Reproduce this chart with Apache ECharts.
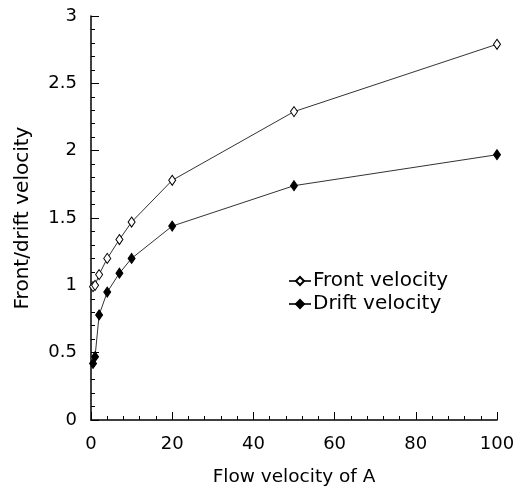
<!DOCTYPE html>
<html><head><meta charset="utf-8">
<script src="https://cdn.jsdelivr.net/npm/echarts@6/dist/echarts.min.js"></script>
<style>html,body{margin:0;padding:0;background:#fff}#c{width:520px;height:488px}</style>
</head><body><div id="c"></div>
<script>
const flowVelocity = [0.5, 1, 2, 4, 7, 10, 20, 50, 100];
const frontVelocity = [0.99, 1.0, 1.08, 1.2, 1.34, 1.47, 1.78, 2.29, 2.79];
const driftVelocity = [0.42, 0.47, 0.78, 0.95, 1.09, 1.2, 1.44, 1.74, 1.97];
const xTicks = [0, 20, 40, 60, 80, 100];
const yTicks = [0, 0.5, 1, 1.5, 2, 2.5, 3];

const font = 'DejaVu Sans, sans-serif';
const chart = echarts.init(document.getElementById('c'), null, {renderer: 'canvas'});
function pairs(ys){ return flowVelocity.map((x,i)=>[x, ys[i]]); }
chart.setOption({
  animation: false,
  backgroundColor: '#fff',
  grid: {left: 91, right: 23, top: 16, bottom: 68, containLabel: false, outerBoundsMode: 'none'},
  legend: {
    orient: 'vertical', left: 283, top: 266, itemGap: 3,
    itemWidth: 22, itemHeight: 10,
    textStyle: {fontFamily: font, fontSize: 20, color: '#000', padding: [0,0,0,-3]},
    data: ['Front velocity', 'Drift velocity']
  },
  xAxis: {
    type: 'value', min: xTicks[0], max: xTicks[xTicks.length-1], interval: 20,
    name: 'Flow velocity of A', nameLocation: 'middle', nameGap: 48,
    nameTextStyle: {fontFamily: font, fontSize: 18.5, color: '#000'},
    axisLine: {show: true, lineStyle: {color: '#000', width: 1.5}},
    axisTick: {show: true, inside: true, length: 8, lineStyle: {color: '#000', width: 1}},
    minorTick: {show: true, splitNumber: 5, length: 4, lineStyle: {color: '#000', width: 1}},
    axisLabel: {fontFamily: font, fontSize: 18, color: '#000', margin: 15},
    splitLine: {show: false}
  },
  yAxis: {
    type: 'value', min: yTicks[0], max: yTicks[yTicks.length-1], interval: 0.5,
    name: 'Front/drift velocity', nameLocation: 'middle', nameGap: 58,
    nameTextStyle: {fontFamily: font, fontSize: 20, color: '#000'},
    axisLine: {show: true, lineStyle: {color: '#000', width: 1.5}},
    axisTick: {show: true, inside: true, length: 8, lineStyle: {color: '#000', width: 1}},
    minorTick: {show: true, splitNumber: 5, length: 4, lineStyle: {color: '#000', width: 1}},
    axisLabel: {fontFamily: font, fontSize: 18, color: '#000', margin: 14},
    splitLine: {show: false}
  },
  series: [
    {
      name: 'Front velocity', type: 'line', data: pairs(frontVelocity),
      symbol: 'diamond', symbolSize: [7, 10], showAllSymbol: true,
      lineStyle: {color: '#333', width: 1},
      itemStyle: {color: '#fff', borderColor: '#000', borderWidth: 1}
    },
    {
      name: 'Drift velocity', type: 'line', data: pairs(driftVelocity),
      symbol: 'diamond', symbolSize: [7, 10], showAllSymbol: true,
      lineStyle: {color: '#333', width: 1},
      itemStyle: {color: '#000', borderColor: '#000', borderWidth: 1}
    }
  ]
});
</script></body></html>
